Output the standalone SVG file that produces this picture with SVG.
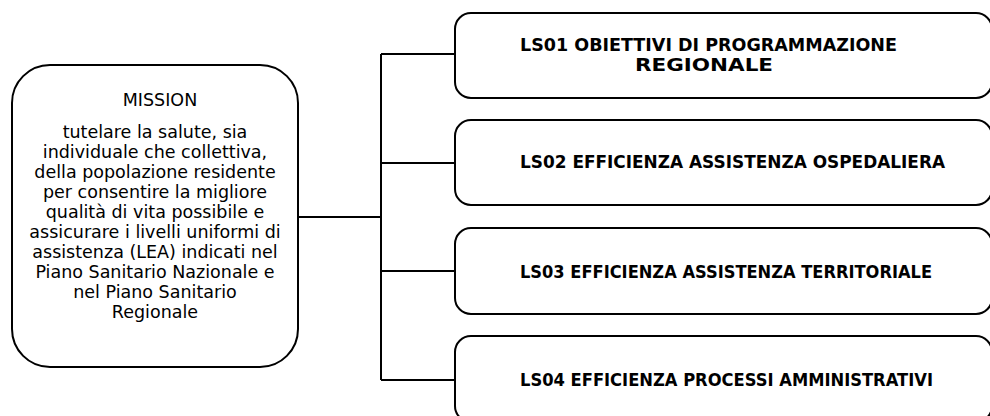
<svg xmlns="http://www.w3.org/2000/svg" width="990" height="416" viewBox="0 0 990 416">
<style>
.box{fill:#fff;stroke:#000;stroke-width:2}
.con{fill:none;stroke:#000;stroke-width:2}
.mt{font-family:"DejaVu Sans",Verdana,sans-serif;font-size:17.5px;fill:#000;text-anchor:middle}
.bt{font-family:"DejaVu Sans",Verdana,sans-serif;font-size:17px;font-weight:bold;fill:#000}
</style>
<rect width="990" height="416" fill="#fff"/>
<g id="connectors">
<path class="con" d="M298,217 H381 M381,54 V380 M381,54 H455 M381,163 H455 M381,271 H455 M381,380 H455"/>
</g>
<g id="mission">
<rect class="box" x="12" y="65" width="286" height="302" rx="38" ry="38"/>
<text class="mt" x="160" y="106">MISSION</text>
<text class="mt" x="155" y="138">tutelare la salute, sia</text>
<text class="mt" x="155" y="158">individuale che collettiva,</text>
<text class="mt" x="155" y="178">della popolazione residente</text>
<text class="mt" x="155" y="198">per consentire la migliore</text>
<text class="mt" x="155" y="218">qualità di vita possibile e</text>
<text class="mt" x="155" y="238">assicurare i livelli uniformi di</text>
<text class="mt" x="155" y="258">assistenza (LEA) indicati nel</text>
<text class="mt" x="155" y="278">Piano Sanitario Nazionale e</text>
<text class="mt" x="155" y="298">nel Piano Sanitario</text>
<text class="mt" x="155" y="318">Regionale</text>
</g>
<g id="ls01">
<rect class="box" x="455" y="13" width="537" height="85" rx="16" ry="16"/>
<text class="bt" x="520" y="51" textLength="377" lengthAdjust="spacingAndGlyphs">LS01 OBIETTIVI DI PROGRAMMAZIONE</text>
<text class="bt" x="704" y="71" text-anchor="middle" textLength="138" lengthAdjust="spacingAndGlyphs">REGIONALE</text>
</g>
<g id="ls02">
<rect class="box" x="455" y="120" width="537" height="85" rx="16" ry="16"/>
<text class="bt" x="520" y="168" textLength="425" lengthAdjust="spacingAndGlyphs">LS02 EFFICIENZA ASSISTENZA OSPEDALIERA</text>
</g>
<g id="ls03">
<rect class="box" x="455" y="228" width="537" height="86" rx="16" ry="16"/>
<text class="bt" x="520" y="278" textLength="412" lengthAdjust="spacingAndGlyphs">LS03 EFFICIENZA ASSISTENZA TERRITORIALE</text>
</g>
<g id="ls04">
<rect class="box" x="455" y="336" width="537" height="86" rx="16" ry="16"/>
<text class="bt" x="520" y="386" textLength="413" lengthAdjust="spacingAndGlyphs">LS04 EFFICIENZA PROCESSI AMMINISTRATIVI</text>
</g>
</svg>
